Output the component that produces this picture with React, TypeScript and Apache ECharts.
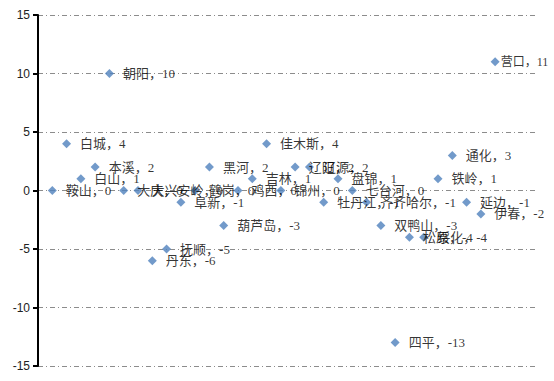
import React, { useEffect, useRef } from "react";
import * as echarts from "echarts";

const cities: string[] = [
  "鞍山", "白城", "白山", "本溪", "朝阳", "大庆", "大兴安岭", "丹东",
  "抚顺", "阜新", "鹤岗", "黑河", "葫芦岛", "鸡西", "吉林", "佳木斯",
  "锦州", "辽阳", "辽源", "牡丹江", "盘锦", "七台河", "齐齐哈尔", "双鸭山",
  "四平", "松原", "绥化", "铁岭", "通化", "延边", "伊春", "营口",
];
const values: number[] = [
  0, 4, 1, 2, 10, 0, 0, -6,
  -5, -1, 0, 2, -3, 0, 1, 4,
  0, 2, 2, -1, 1, 0, -1, -3,
  -13, -4, -4, 1, 3, -1, -2, 11,
];
const yTicks: number[] = [-15, -10, -5, 0, 5, 10, 15];

export default function App() {
  const ref = useRef<HTMLDivElement>(null);
  useEffect(() => {
    if (!ref.current) return;
    const chart = echarts.init(ref.current, null, { renderer: "svg" });
    const data = cities.map((c, i) => {
      const item: any = { name: c, value: [i + 1, values[i]] };
      if (i === cities.length - 1) item.label = { distance: 1, fontSize: 12 };
      return item;
    });
    chart.setOption({
      animation: false,
      backgroundColor: "#fff",
      grid: { left: 38, top: 15, right: 16, bottom: 15, containLabel: false },
      xAxis: {
        type: "value",
        min: 0,
        max: 35,
        show: false,
        splitLine: { show: false },
      },
      yAxis: {
        type: "value",
        min: yTicks[0],
        max: yTicks[yTicks.length - 1],
        interval: 5,
        axisLine: { show: true, lineStyle: { color: "#000", width: 2 } },
        axisTick: { show: true, inside: false, length: 5, lineStyle: { color: "#000", width: 2 } },
        axisLabel: {
          color: "#222",
          fontSize: 12,
          margin: 8,
          fontFamily: "'Liberation Sans', Arial, sans-serif",
        },
        splitLine: {
          show: true,
          lineStyle: { color: "#8c8c8c", width: 1, type: [5, 3, 1, 3] },
        },
      },
      series: [
        {
          type: "scatter",
          symbol: "diamond",
          symbolSize: 9,
          itemStyle: { color: "#4F81BD" },
          data,
          label: {
            show: true,
            position: "right",
            distance: 9,
            color: "#000",
            fontSize: 13,
            fontFamily: "'Liberation Serif', 'Times New Roman', 'Noto Sans CJK SC', serif",
            formatter: (p: any) => `${p.name}，${p.value[1]}`,
          },
        },
      ],
    });
    return () => chart.dispose();
  }, []);
  return <div ref={ref} style={{ width: 554, height: 381, position: "absolute", left: 0, top: 0 }} />;
}
